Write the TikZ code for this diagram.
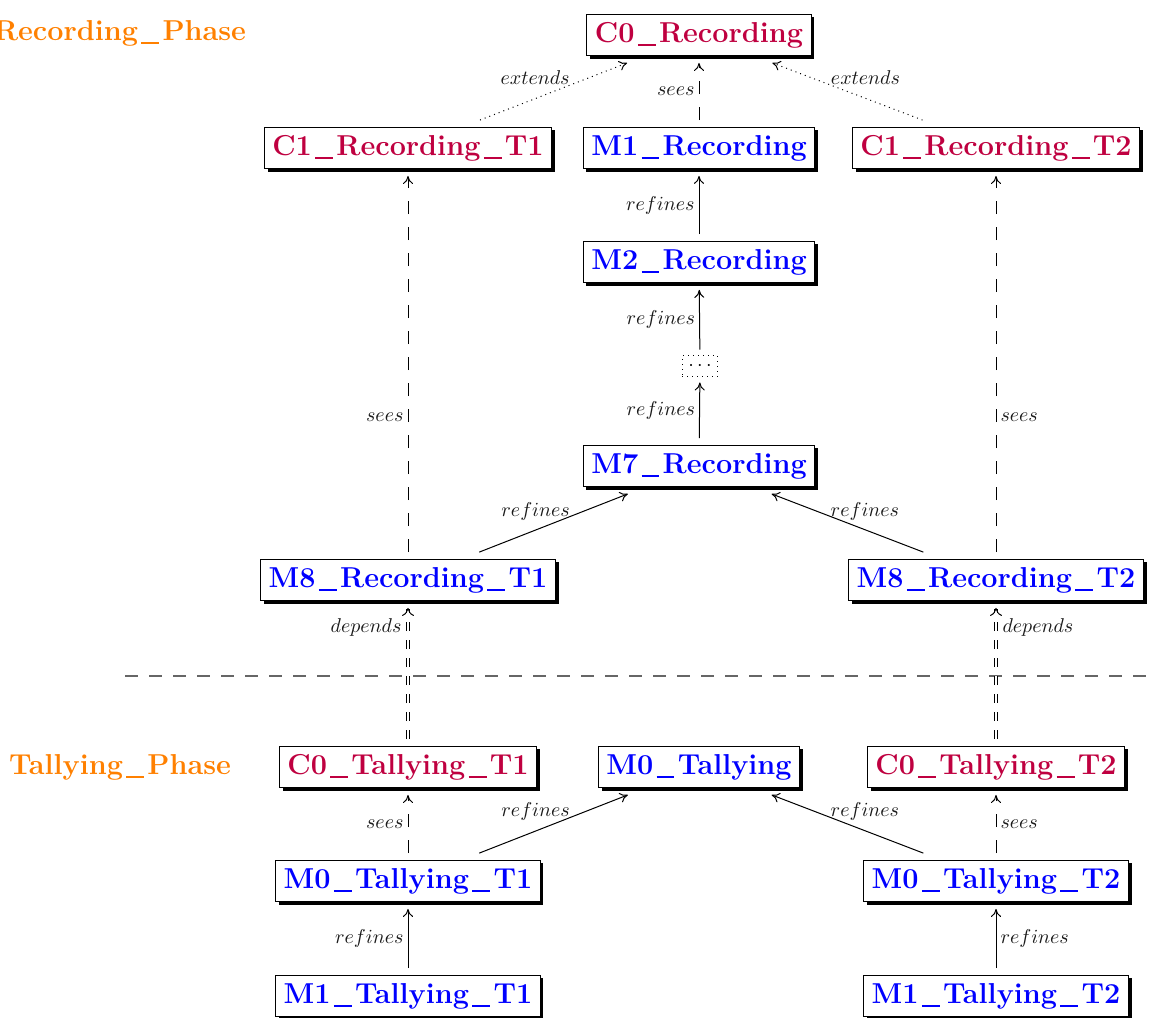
\documentclass[tikz,border=0pt]{standalone}
\usetikzlibrary{arrows.meta,shadows}
\newcommand\us{\hbox to \fontcharwd\font`\_{\hss\rule[-0.13em]{0.62em}{0.07em}\hss}}
\begin{document}
\begin{tikzpicture}[x=0.5pt,y=-0.5pt,
  >={Computer Modern Rightarrow[length=4pt,width=5pt]},
  mbox/.style={draw=black, fill=white, line width=0.5pt, inner sep=4pt, outer sep=3.5pt,
    font=\Large\bfseries,
    drop shadow={shadow xshift=1.6pt, shadow yshift=-1.6pt, fill=black, opacity=1}},
  mach/.style={mbox, text=blue},
  ctx/.style={mbox, text=purple},
  dotsbox/.style={draw=black, dotted, line width=0.5pt, inner sep=3pt, outer sep=3pt},
  phase/.style={font=\Large\bfseries, text=orange},
  lbl/.style={font=\normalsize, inner sep=2pt, text=black!90},
  refl/.style={->, line width=0.5pt},
  seesl/.style={->, line width=0.5pt, dash pattern=on 6.5pt off 6.5pt},
  extl/.style={->, line width=0.5pt, dotted},
  depl/.style={-{Computer Modern Rightarrow[length=4pt,width=6pt]}, line width=0.5pt, double, double distance=1.4pt, dash pattern=on 4.5pt off 4.5pt},
  sepl/.style={line width=1pt, black!60, dash pattern=on 6.5pt off 5.5pt}
]
\useasboundingbox (0,0) rectangle (1154,1017);
\clip (0,0) rectangle (1154,1017);

% phase labels
\node[phase] (recph) at (120,33) {Recording\us Phase};
\node[phase] (talph) at (120,767) {Tallying\us Phase};

% separator
\coordinate (sepL) at (125,676);
\coordinate (sepR) at (1170,676);
\draw[sepl] (sepL) -- (sepR);

% recording phase nodes
\node[ctx]  (C0R)  at (699,35)  {C0\us Recording};
\node[ctx]  (C1T1) at (408,148) {C1\us Recording\us T1};
\node[mach] (M1R)  at (699,148) {M1\us Recording};
\node[ctx]  (C1T2) at (996,148) {C1\us Recording\us T2};
\node[mach] (M2R)  at (699,262) {M2\us Recording};
\node[dotsbox] (Md) at (700,366) {$\cdots$};
\node[mach] (M7R)  at (699,466) {M7\us Recording};
\node[mach] (M8T1) at (408,580) {M8\us Recording\us T1};
\node[mach] (M8T2) at (996,580) {M8\us Recording\us T2};

% tallying phase nodes
\node[ctx]  (C0TT1) at (408,767) {C0\us Tallying\us T1};
\node[mach] (M0T)   at (699,767) {M0\us Tallying};
\node[ctx]  (C0TT2) at (996,767) {C0\us Tallying\us T2};
\node[mach] (M0TT1) at (408,881) {M0\us Tallying\us T1};
\node[mach] (M0TT2) at (996,881) {M0\us Tallying\us T2};
\node[mach] (M1TT1) at (408,996) {M1\us Tallying\us T1};
\node[mach] (M1TT2) at (996,996) {M1\us Tallying\us T2};

% recording edges
\draw[extl] (C1T1) -- node[lbl, pos=0.64, anchor=south east, yshift=-2.5pt] {$extends$} (C0R);
\draw[extl] (C1T2) -- node[lbl, pos=0.64, anchor=south west, yshift=-2.5pt] {$extends$} (C0R);
\draw[seesl] (M1R) -- node[lbl, left] {$sees$} (C0R);
\draw[refl] (M2R) -- node[lbl, left] {$refines$} (M1R);
\draw[refl] (Md) -- node[lbl, left] {$refines$} (M2R);
\draw[refl] (M7R) -- node[lbl, left] {$refines$} (Md);
\draw[seesl] (M8T1) -- node[lbl, pos=0.36, left] {$sees$} (C1T1);
\draw[seesl] (M8T2) -- node[lbl, pos=0.36, right] {$sees$} (C1T2);
\draw[refl] (M8T1) -- node[lbl, pos=0.64, anchor=south east, yshift=-5pt] {$refines$} (M7R);
\draw[refl] (M8T2) -- node[lbl, pos=0.64, anchor=south west, yshift=-5pt] {$refines$} (M7R);

% depends edges
\draw[depl] (C0TT1) -- node[lbl, pos=0.85, left, xshift=-1pt] {$depends$} (M8T1);
\draw[depl] (C0TT2) -- node[lbl, pos=0.85, right, xshift=1pt] {$depends$} (M8T2);

% tallying edges
\draw[seesl] (M0TT1) -- node[lbl, left] {$sees$} (C0TT1);
\draw[seesl] (M0TT2) -- node[lbl, right] {$sees$} (C0TT2);
\draw[refl] (M0TT1) -- node[lbl, pos=0.64, anchor=south east, yshift=-4.5pt] {$refines$} (M0T);
\draw[refl] (M0TT2) -- node[lbl, pos=0.64, anchor=south west, yshift=-4.5pt] {$refines$} (M0T);
\draw[refl] (M1TT1) -- node[lbl, left] {$refines$} (M0TT1);
\draw[refl] (M1TT2) -- node[lbl, right] {$refines$} (M0TT2);
\end{tikzpicture}
\end{document}
